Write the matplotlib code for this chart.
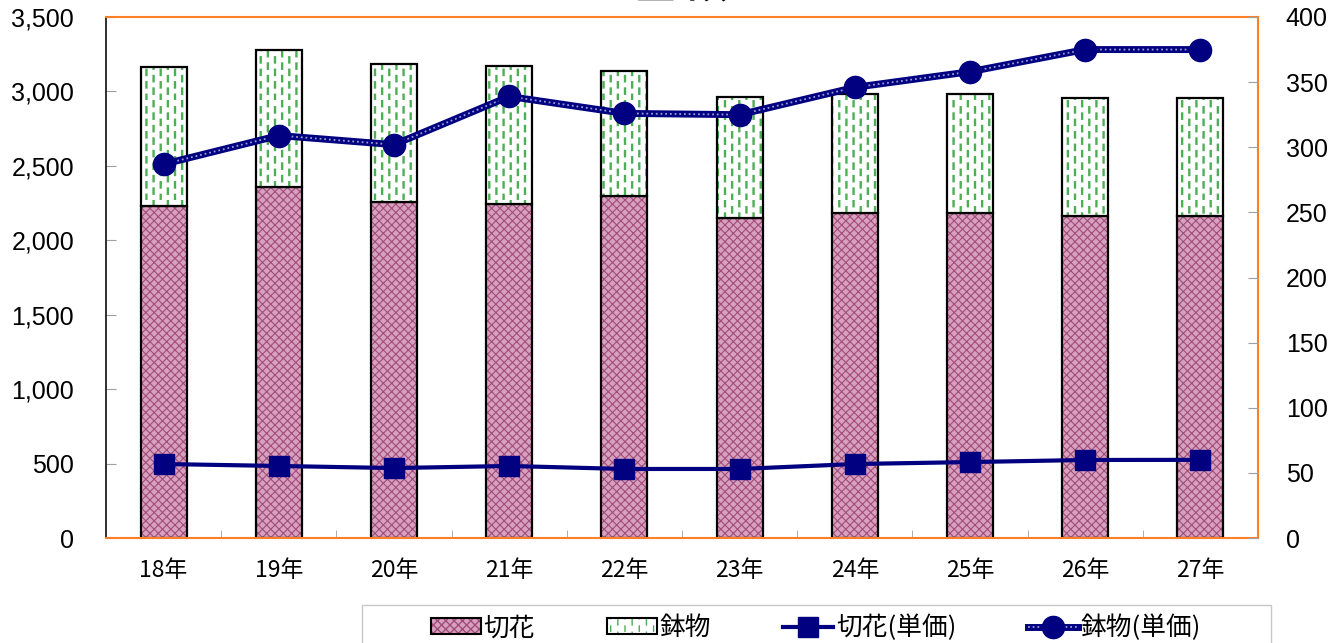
import warnings
import matplotlib
matplotlib.use("Agg")
import matplotlib.pyplot as plt
import matplotlib.hatch as mhatch
from matplotlib.path import Path as MPath
from matplotlib.patches import Patch, Rectangle
from matplotlib.lines import Line2D
from matplotlib.legend_handler import HandlerTuple
from matplotlib.colors import to_rgba
from matplotlib.ticker import FuncFormatter, MultipleLocator

warnings.filterwarnings("ignore")

plt.rcParams["font.family"] = ["Noto Sans CJK JP", "DejaVu Sans"]

# 年次ごとの値
years = ["18年", "19年", "20年", "21年", "22年", "23年", "24年", "25年", "26年", "27年"]
cut_amount = [2230, 2357, 2257, 2243, 2297, 2149, 2183, 2183, 2163, 2163]   # 切花
pot_amount = [933, 920, 926, 927, 839, 813, 799, 799, 792, 792]             # 鉢物
cut_price = [56.8, 55.3, 53.7, 55.3, 53.0, 53.0, 56.8, 58.3, 59.9, 60.0]     # 切花(単価)
pot_price = [287, 309, 302, 339, 326, 325, 346, 358, 375, 375]              # 鉢物(単価)

NAVY = "#000080"
ORANGE = "#ff7f27"
PINK, PINK_HATCH = "#d6a0be", "#a24c7b"
GREEN_HATCH = "#4cae55"
TICK_GRAY = "#a0a0a0"


# 破線の縦縞ハッチ（鉢物の模様）: "!" で指定
class DashedVerticalHatch(mhatch.HatchPatternBase):
    def __init__(self, hatch, density):
        self.num_cols = 14 if "!" in hatch else 0
        self.num_dashes = 8
        self.num_vertices = self.num_cols * self.num_dashes * 2

    def set_vertices_and_codes(self, vertices, codes):
        step = 1.0 / self.num_dashes
        k = 0
        for i in range(self.num_cols):
            x = (i + 0.5) / self.num_cols
            off = 0.5 * step if i % 2 else 0.0
            for j in range(self.num_dashes):
                y0 = j * step + off
                vertices[k] = (x, y0)
                vertices[k + 1] = (x, y0 + 0.42 * step)
                codes[k] = MPath.MOVETO
                codes[k + 1] = MPath.LINETO
                k += 2


mhatch._hatch_types.append(DashedVerticalHatch)


def style_patch(p, hcolor, hlw):
    p._hatch_color = to_rgba(hcolor)
    if hasattr(p, "set_hatch_linewidth"):
        p.set_hatch_linewidth(hlw)


fig = plt.figure(figsize=(13.38, 6.43), dpi=100)
ax = fig.add_axes([106 / 1338, 105 / 643, 1152 / 1338, 521 / 643])

x = list(range(len(years)))
cut_bars = ax.bar(x, cut_amount, width=0.4, color=PINK, edgecolor="black",
                  linewidth=1.6, hatch="xxxx", zorder=2)
pot_bars = ax.bar(x, pot_amount, bottom=cut_amount, width=0.4, color="white",
                  edgecolor="black", linewidth=1.6, hatch="!", zorder=2)
for b in cut_bars:
    style_patch(b, PINK_HATCH, 0.8)
for b in pot_bars:
    style_patch(b, GREEN_HATCH, 1.7)

ax.set_xlim(-0.5, len(years) - 0.5)
ax.set_ylim(0, 3500)
ax.yaxis.set_major_locator(MultipleLocator(500))
ax.yaxis.set_major_formatter(FuncFormatter(lambda v, _: f"{int(v):,}"))
ax.set_xticks(x)
ax.set_xticklabels(years, fontsize=16.5)
ax.set_xticks([i + 0.5 for i in x[:-1]], minor=True)
ax.tick_params(axis="x", which="major", length=0, pad=15)
ax.tick_params(axis="x", which="minor", direction="in", length=6,
               color=TICK_GRAY)
ax.tick_params(axis="y", direction="in", length=7, color=TICK_GRAY, pad=23,
               labelsize=18)
for lab in ax.get_yticklabels():
    lab.set_family(["Liberation Sans", "DejaVu Sans"])

for side in ("top", "right", "bottom"):
    ax.spines[side].set_color(ORANGE)
    ax.spines[side].set_linewidth(1.5)
ax.spines["left"].set_color("#202020")
ax.spines["left"].set_linewidth(1.3)

ax2 = ax.twinx()
ax2.set_ylim(0, 400)
ax2.yaxis.set_major_locator(MultipleLocator(50))
ax2.tick_params(axis="y", direction="in", length=7, color=TICK_GRAY, pad=20,
                labelsize=18)
for lab in ax2.get_yticklabels():
    lab.set_family(["Liberation Sans", "DejaVu Sans"])
for side in ax2.spines:
    ax2.spines[side].set_visible(False)

ax2.plot(x, cut_price, color=NAVY, linewidth=3, marker="s", markersize=15,
         zorder=3)
ax2.plot(x, pot_price, color=NAVY, linewidth=5, zorder=3,
         solid_capstyle="butt")
ax2.plot(x, pot_price, color="#9a9ad8", linewidth=1.3,
         linestyle=(0, (1, 1.6)), zorder=3.1)
ax2.plot(x, pot_price, color=NAVY, linestyle="none", marker="o",
         markersize=16, zorder=4)

fig.text(0.5094, 1 + 1 / 643, "金 額", fontsize=30, fontweight="bold",
         ha="center", va="baseline")

# 凡例（枠は別に描く）
fig.patches.append(Rectangle((362 / 1338, -0.05), 909 / 1338,
                             0.05 + 38 / 643, transform=fig.transFigure,
                             facecolor="white", edgecolor="#c8c8c8",
                             linewidth=1.0, zorder=0))

h_cut = Patch(facecolor=PINK, edgecolor="black", linewidth=1.5, hatch="xxxx",
              label="切花")
style_patch(h_cut, PINK_HATCH, 0.8)
h_pot = Patch(facecolor="white", edgecolor="black", linewidth=1.5, hatch="!",
              label="鉢物")
style_patch(h_pot, GREEN_HATCH, 1.7)
h_cutp = Line2D([], [], color=NAVY, linewidth=3, marker="s", markersize=15)
h_potp = (Line2D([], [], color=NAVY, linewidth=5),
          Line2D([], [], color="#9a9ad8", linewidth=1.3, linestyle=(0, (1, 1.6))),
          Line2D([], [], color=NAVY, linestyle="none", marker="o", markersize=16))

leg = fig.legend([h_cut, h_pot, h_cutp, h_potp],
                 ["切花", "鉢物", "切花(単価)", "鉢物(単価)"],
                 handler_map={tuple: HandlerTuple(ndivide=1, pad=0)},
                 loc="center left", bbox_to_anchor=(431 / 1338, 1 - 628 / 643),
                 ncol=4, fontsize=18.5, frameon=False,
                 handlelength=1.95, handleheight=0.55, handletextpad=0.1,
                 columnspacing=2.8, borderaxespad=0, borderpad=0)

fig.savefig("out.png", dpi=100)
